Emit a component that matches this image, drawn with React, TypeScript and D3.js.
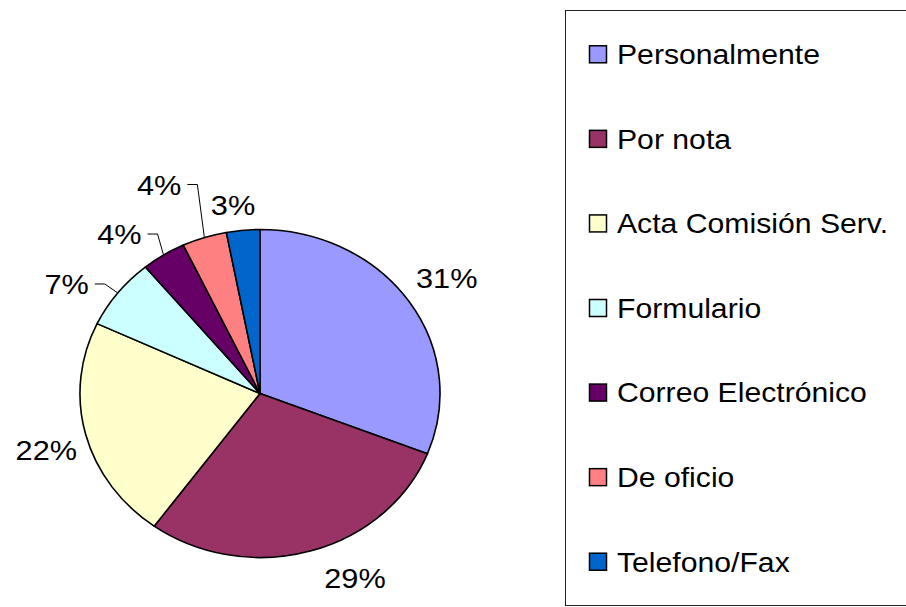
import React, { useEffect, useRef } from "react";
import * as d3 from "d3";

const categories = [
  "Personalmente",
  "Por nota",
  "Acta Comisión Serv.",
  "Formulario",
  "Correo Electrónico",
  "De oficio",
  "Telefono/Fax",
];
const values = [31, 29, 22, 7, 4, 4, 3];
const colors = ["#9999FF", "#993366", "#FFFFCC", "#CCFFFF", "#660066", "#FF8080", "#0066CC"];

// label placement tweaks (leader elbows and small nudges), kept apart from the data
const leader: ([number, number] | null)[] = [null, null, null, [-13, -9], [-6, -21], [-7, -53], null];
const nudge = [[-6, -5], [30, -4], [12, 8], [0, 0], [0, 0], [0, 0], [-5, 7]];

const W = 906, H = 607;
const cx = 260, cy = 393.5, rx = 180, ry = 164;
const stretch = rx / ry;

export default function App() {
  const ref = useRef<SVGSVGElement>(null);

  useEffect(() => {
    const svg = d3.select(ref.current);
    svg.selectAll("*").remove();

    const font = "Liberation Sans, Arial, sans-serif";
    const total = d3.sum(values);
    const pie = d3.pie<number>().sort(null).value(d => d);
    const arcs = pie(values);
    const arc = d3.arc<d3.PieArcDatum<number>>().innerRadius(0).outerRadius(1);

    const g = svg.append("g").attr("transform", `translate(${cx},${cy}) scale(${rx},${ry})`);
    g.selectAll("path")
      .data(arcs)
      .join("path")
      .attr("d", arc)
      .attr("fill", (d, i) => colors[i])
      .attr("stroke", "#000")
      .attr("stroke-width", 1.6)
      .attr("stroke-linejoin", "round")
      .attr("vector-effect", "non-scaling-stroke");

    const label = (x: number, y: number, anchor: string, txt: string, size: number) =>
      svg.append("text")
        .attr("transform", `translate(${x},${y}) scale(${stretch},1)`)
        .attr("dy", "0.36em")
        .attr("text-anchor", anchor)
        .attr("font-family", font)
        .attr("font-size", size)
        .text(txt);

    // data labels
    const fs = 28;
    arcs.forEach((d, i) => {
      const a = (d.startAngle + d.endAngle) / 2;
      const sx = Math.sin(a), sy = -Math.cos(a);
      const ex = cx + rx * sx, ey = cy + ry * sy;
      const txt = d3.format(".0%")(d.value / total);
      const l = leader[i];
      if (l) {
        const bx = ex + l[0], by = ey + l[1];
        const hx = bx - 10;
        svg.append("path")
          .attr("d", d3.line()([[ex, ey], [bx, by], [hx, by]]))
          .attr("fill", "none")
          .attr("stroke", "#000")
          .attr("stroke-width", 1);
        label(hx - 6, by, "end", txt, fs);
      } else {
        const pad = 22;
        const lx = cx + (rx + pad) * sx + 31 * sx + nudge[i][0];
        const ly = cy + (ry + pad) * sy + 10 * sy + nudge[i][1];
        label(lx, ly, "middle", txt, fs);
      }
    });

    // legend
    svg.append("rect")
      .attr("x", 565.5)
      .attr("y", 10.5)
      .attr("width", 360)
      .attr("height", 595)
      .attr("fill", "none")
      .attr("stroke", "#222")
      .attr("stroke-width", 1);

    const y = d3.scaleBand<string>().domain(categories).range([12, 604]);
    categories.forEach((c, i) => {
      const yc = (y(c) as number) + y.bandwidth() / 2;
      svg.append("rect")
        .attr("x", 589.5)
        .attr("y", yc - 8.5)
        .attr("width", 17)
        .attr("height", 17)
        .attr("fill", colors[i])
        .attr("stroke", "#000")
        .attr("stroke-width", 1.5);
      label(617, yc, "start", c, 27.5);
    });
  }, []);

  return (
    <svg
      ref={ref}
      width={W}
      height={H}
      style={{ position: "absolute", left: 0, top: 0, background: "#fff" }}
    />
  );
}
